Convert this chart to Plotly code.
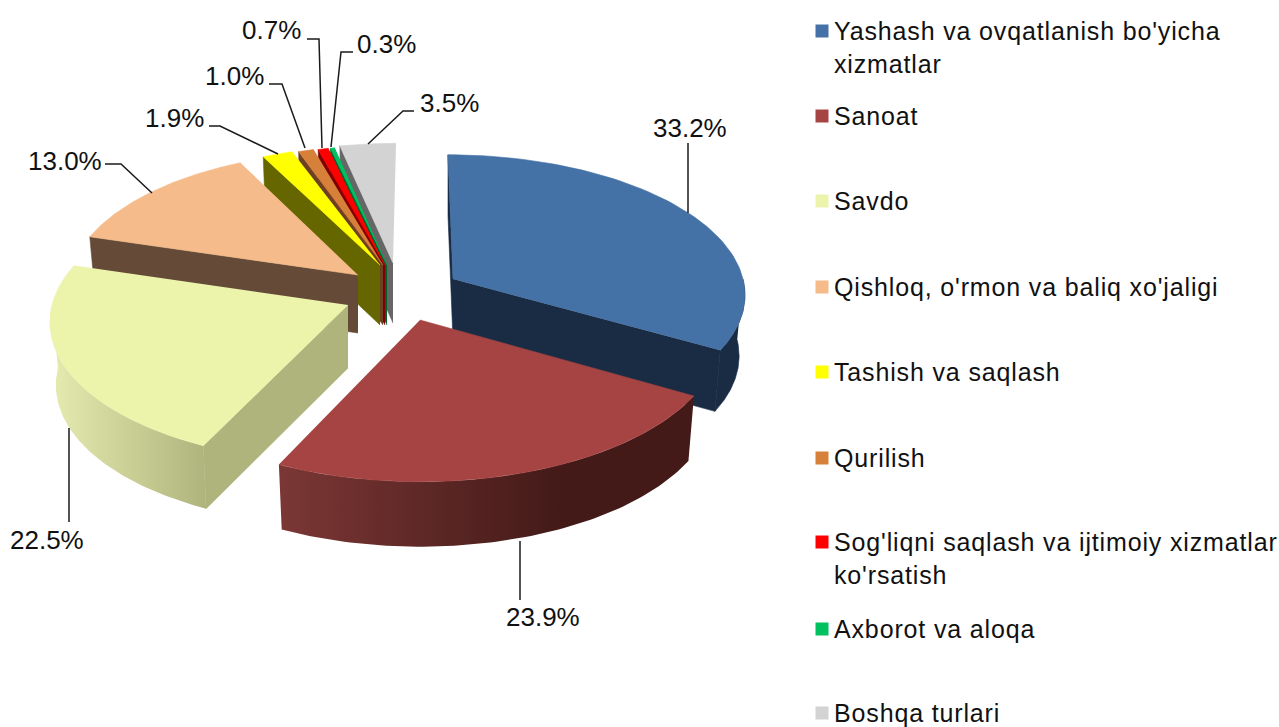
import numpy as np
import plotly.graph_objects as go

# ---- data ----
categories = ["Yashash va ovqatlanish bo'yicha<br>xizmatlar", "Sanoat", "Savdo",
              "Qishloq, o'rmon va baliq xo'jaligi", "Tashish va saqlash", "Qurilish",
              "Sog'liqni saqlash va ijtimoiy xizmatlar<br>ko'rsatish", "Axborot va aloqa",
              "Boshqa turlari"]
values = [33.2, 23.9, 22.5, 13.0, 1.9, 1.0, 0.7, 0.3, 3.5]
top_colors = ["#4471a6", "#a54442", "#ecf4ac", "#f5bb8a", "#ffff00", "#d6803a", "#ff0000", "#00c060", "#d3d3d3"]
side_colors = ["#1a2c44", "#6a2a28", "#aeb47c", "#644a37", "#666600", "#6c4020", "#800000", "#006030", "#666666"]

# ---- 3-D projection settings for each slice (exploded apex, radii, skew, thickness) ----
apex_x = [453, 420, 348, 358, 380, 383, 385, 387, 393]
apex_y = [279, 320, 305, 275, 265, 265, 265, 265, 263]
rad_x = [290, 300, 296, 288, 286, 275, 265, 265, 285]
rad_y = [138, 147, 143, 138, 133, 133, 133, 133, 133]
skew = [5, 0, -6, 0, 0, 0, 0, 0, -3]
depth = [61, 65, 63, 58, 60, 60, 60, 60, 60]
PERSP = 0.1
BASE_SHRINK = 0.98

# ---- label layout ----
label_x = [690, 543, 47, 65, 174, 234, 271, 386, 449]
label_y = [128, 617, 540, 161, 118, 76, 30, 44, 103]
leader_x = [[688, 688], [520, 520], [69, 69], [105, 121, 152], [209, 220, 278], [269, 282, 305],
            [307, 319, 322], [353, 341, 331], [414, 403, 368]]
leader_y = [[143, 213], [541, 600], [428, 522], [164, 164, 193], [126, 126, 154], [84, 84, 148],
            [39, 39, 148], [52, 52, 147], [111, 111, 144]]
legend_y = [31, 116, 201, 287, 372, 458, 542, 629, 713]

cum = np.concatenate([[0], np.cumsum(values)]) / sum(values) * 2 * np.pi


def proj(i, th, base=False):
    th = np.asarray(th, dtype=float)
    u, v = np.sin(th), -np.cos(th)
    s = 1 + PERSP * v
    f = BASE_SHRINK if base else 1.0
    x = apex_x[i] + rad_x[i] * u * s * f + skew[i] * v
    y = apex_y[i] + rad_y[i] * v * s + (depth[i] if base else 0)
    return x, y


fig = go.Figure()


def poly(x, y, color, gradient=None):
    kw = dict(fillgradient=gradient) if gradient else dict(fillcolor=color)
    fig.add_trace(go.Scatter(x=list(x), y=list(y), mode="lines", fill="toself",
                             line=dict(width=0 if gradient else 0.6, color=color),
                             hoverinfo="skip", showlegend=False, **kw))


def top(i):
    th = np.linspace(cum[i], cum[i + 1], 80)
    x, y = proj(i, th)
    poly(np.r_[apex_x[i], x], np.r_[apex_y[i], y], top_colors[i])


def cut(i, th):
    x0, y0 = proj(i, th)
    x1, y1 = proj(i, th, True)
    ax, ay = apex_x[i], apex_y[i]
    poly([ax, float(x0), float(x1), ax], [ay, float(y0), float(y1), ay + depth[i]], side_colors[i])


def outer(i, a, b, gradient=None):
    th = np.linspace(a, b, 80)
    x0, y0 = proj(i, th)
    x1, y1 = proj(i, th, True)
    poly(np.r_[x0, x1[::-1]], np.r_[y0, y1[::-1]], side_colors[i], gradient)


# back to front: the small slices, right to left
for i in [8, 7, 6, 5, 4, 3]:
    cut(i, cum[i])
    top(i)

# Yashash
cut(0, cum[0])
cut(0, cum[1])
outer(0, np.pi / 2, cum[1])
top(0)
# Savdo
cut(2, cum[2])
outer(2, cum[2], 1.5 * np.pi,
      dict(type="horizontal", colorscale=[[0, "#e6ebb0"], [1, "#aeb47c"]]))
top(2)
# Sanoat
outer(1, cum[1], cum[2],
      dict(type="horizontal", colorscale=[[0, "#7b3735"], [0.68, "#431a18"], [1, "#431a18"]]))
top(1)

# leader lines
for lx, ly in zip(leader_x, leader_y):
    fig.add_trace(go.Scatter(x=lx, y=ly, mode="lines", line=dict(color="#1a1a1a", width=1.5),
                             hoverinfo="skip", showlegend=False))

# legend markers
fig.add_trace(go.Scatter(x=[822] * len(legend_y), y=legend_y, mode="markers",
                         marker=dict(symbol="square", size=13, color=top_colors, line=dict(width=0)),
                         hoverinfo="skip", showlegend=False))

FONT = dict(family="Liberation Sans, Arial, sans-serif", size=26, color="#111111")
LEGEND_FONT = dict(family="Liberation Sans, Arial, sans-serif", size=25, color="#111111")
for v, x, y in zip(values, label_x, label_y):
    fig.add_annotation(x=x, y=y, text=f"{v:.1f}%", showarrow=False, font=FONT, xanchor="center", yanchor="middle")
for c, y in zip(categories, legend_y):
    lines = c.count("<br>")
    fig.add_annotation(x=832, y=y + lines * 16, text=c, showarrow=False, font=LEGEND_FONT,
                       xanchor="left", yanchor="middle", align="left")

fig.update_layout(width=1279, height=727, margin=dict(l=0, r=0, t=0, b=0), showlegend=False,
                  paper_bgcolor="white", plot_bgcolor="white",
                  xaxis=dict(range=[0, 1279], visible=False, fixedrange=True),
                  yaxis=dict(range=[727, 0], visible=False, fixedrange=True))

post = """
document.body.style.margin='0';document.body.style.overflow='hidden';
document.querySelectorAll('.annotation-text').forEach(function(t){
  if (t.textContent.indexOf('%') < 0) { t.style.letterSpacing = '0.85px'; }
});
"""
fig.write_html("out.html", post_script=post, config=dict(displayModeBar=False))
